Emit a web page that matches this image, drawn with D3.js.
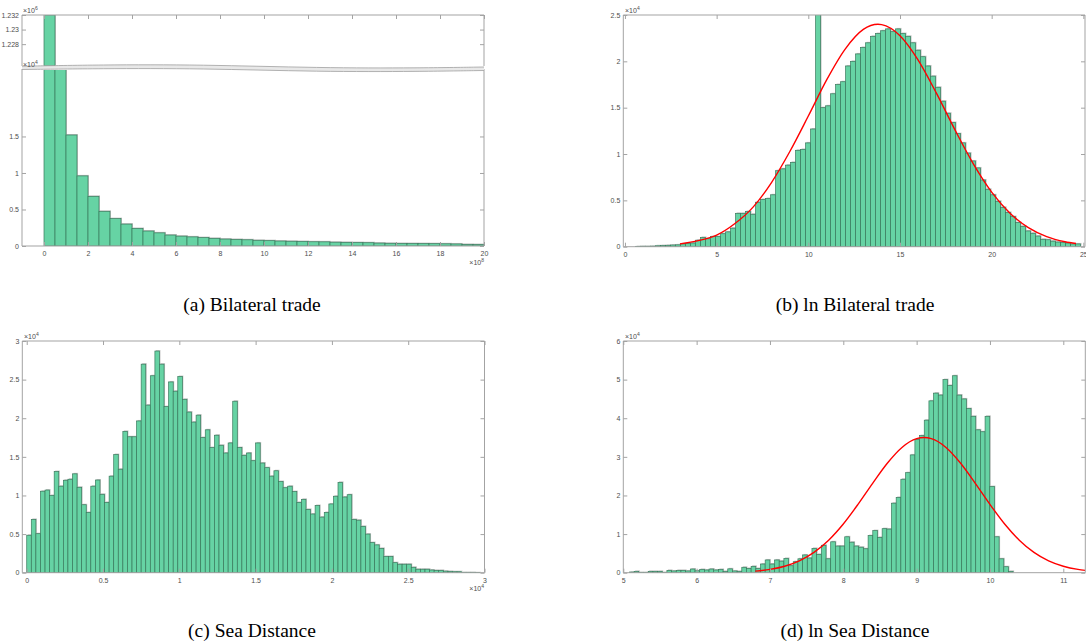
<!DOCTYPE html>
<meta charset="utf-8">
<style>
 body { margin: 0; background: #fff; }
 .ax text, .lbl { font: 7px "Liberation Sans", Arial, sans-serif; fill: #4d4d4d; }
 .ax line { stroke: #a3a3a3; }
 .frame { fill: none; stroke: #a3a3a3; stroke-width: 1; }
 .bar { fill: #66d3a4; stroke: #3a7a5d; stroke-width: 0.7; }
 .shadow { fill: #c6c6c6; }
 .fit { fill: none; stroke: #ff0000; stroke-width: 1.4; }
 .caption { font: 19.5px "Liberation Serif", "Times New Roman", serif; fill: #000; }
</style>

<svg id="fig" width="1086" height="644"></svg>

<script src="https://cdn.jsdelivr.net/npm/d3@7"></script>

<script>
 // (a) Bilateral trade, bins of 0.5 (x10^8) from 0
 var tradeStart = 0, tradeWidth = 0.5;
 var tradeCounts = [1232000, 32000, 15200, 9600, 6800, 4750, 3750, 3000, 2400, 2050,
                    1800, 1500, 1350, 1250, 1150, 1050, 950, 900, 850, 780,
                    730, 680, 650, 620, 580, 570, 520, 500, 470, 450,
                    400, 370, 350, 340, 330, 320, 300, 280, 220, 200];

 // (b) ln Bilateral trade
 var lnTradeStart = 0.58, lnTradeWidth = 0.2727;
 var lnTradeCounts = [40, 50, 50, 60, 100, 120, 150, 180, 200, 300,
                      350, 400, 700, 1000, 850, 1100, 1100, 1400, 1600, 2000,
                      3600, 3600, 3800, 3500, 4800, 5100, 5200, 5600, 8200, 8400,
                      8800, 9100, 10400, 10500, 11200, 12700, 25600, 15000, 15200, 16500,
                      17500, 17800, 19500, 20000, 20800, 21500, 22000, 22700, 23000, 23300,
                      23500, 23200, 23500, 23000, 22700, 22000, 21200, 20500, 19500, 18400,
                      17200, 15700, 14400, 13400, 12200, 11200, 10100, 9250, 8500, 7200,
                      6200, 5600, 4900, 4250, 3700, 3250, 2600, 2200, 1700, 1450,
                      1150, 800, 750, 600, 500, 450, 400, 300, 300];
 var lnTradeFitX = [3, 4, 5, 6, 7, 8, 9, 10, 11, 12, 13, 13.8, 14, 15, 16, 17, 18, 19, 20, 21, 22, 23, 24, 24.6];
 var lnTradeFitY = [300, 650, 1250, 2500, 4300, 6950, 10300, 14100, 18000, 21300, 23450, 24000, 23960, 22770,
                    20110, 16510, 12600, 8940, 5890, 3610, 2060, 1090, 540, 340];

 // (c) Sea Distance, bins of 0.03 (x10^4) from 0
 var seaStart = 0, seaWidth = 0.03;
 var seaCounts = [4850, 6900, 5050, 10550, 10700, 10000, 13100, 11200, 11970, 12100,
                  12800, 11060, 8800, 7800, 11200, 12000, 10150, 9100, 12500, 15300,
                  13400, 18300, 17600, 17600, 19650, 27000, 21700, 25500, 28700, 27000,
                  21500, 24700, 23500, 25400, 22450, 20800, 19500, 20400, 17500, 18500,
                  16200, 17800, 16500, 15500, 16800, 22200, 16200, 15200, 15500, 14500,
                  16800, 14200, 13600, 12500, 13200, 11800, 11000, 11200, 10500, 9100,
                  9500, 8200, 7600, 8700, 7200, 7800, 8900, 9900, 11700, 9800,
                  10100, 6900, 6800, 6000, 5000, 3900, 3600, 3150, 2100, 2100,
                  1300, 1100, 1100, 1100, 700, 450, 450, 450, 350, 300,
                  300, 200, 170, 130, 130, 50, 50, 50, 30];

 // (d) ln Sea Distance
 var lnSeaStart = 5.0845, lnSeaWidth = 0.0638;
 var lnSeaCounts = [170, 350, 100, 100, 350, 350, 350, 100, 600, 450,
                    600, 600, 450, 950, 500, 850, 700, 950, 700, 850,
                    350, 1000, 450, 350, 1400, 1100, 1650, 1100, 2250, 3300,
                    2250, 3300, 3000, 3700, 1800, 2850, 3600, 4600, 3800, 6300,
                    4750, 7100, 3600, 8000, 6900, 6900, 9300, 7900, 6900, 6600,
                    6200, 9600, 10900, 9150, 11400, 11300, 18000, 19500, 24200, 25900,
                    30500, 34500, 35500, 39500, 44500, 46500, 46000, 50000, 48500, 51000,
                    46000, 45000, 42500, 40500, 37000, 36500, 40500, 22300, 9300, 3600,
                    1550, 350];
 var lnSeaFitX = [6.8, 7, 7.2, 7.4, 7.6, 7.8, 8, 8.2, 8.4, 8.6, 8.8, 9, 9.1, 9.2, 9.4, 9.6, 9.8, 10,
                  10.2, 10.4, 10.6, 10.8, 11, 11.2, 11.3];
 var lnSeaFitY = [400, 850, 1670, 3060, 5250, 8420, 12620, 17680, 23150, 28350, 32440, 34710, 35000,
                  34710, 32440, 28350, 23150, 17680, 12620, 8420, 5250, 3060, 1670, 850, 590];

 var svg = d3.select("#fig");
 var clipCount = 0;

 function num(d) { return String(+d.toFixed(4)); }

 function drawPanel(p)
 {
     var x = d3.scaleLinear().domain(p.xDomain).range([p.left, p.right]);
     var y = d3.scaleLinear().domain(p.yDomain).range([p.bottom, p.top]);
     var g = svg.append("g");

     var id = "clip" + (clipCount++);
     g.append("clipPath").attr("id", id).append("rect")
         .attr("x", p.left).attr("y", p.top)
         .attr("width", p.right - p.left).attr("height", p.bottom - p.top);

     var plot = g.append("g").attr("clip-path", "url(#" + id + ")");

     var bins = p.counts.map(function(c, i) {
         return {x0: p.start + i * p.width, x1: p.start + (i + 1) * p.width, n: c};
     });

     // light offset outline behind the bars
     plot.selectAll(".shadow").data(bins).enter().append("rect")
         .attr("class", "shadow")
         .attr("x", function(d) { return x(d.x0) + 1; })
         .attr("y", function(d) { return y(d.n) - 1; })
         .attr("width", function(d) { return x(d.x1) - x(d.x0); })
         .attr("height", function(d) { return Math.max(0, p.bottom - y(d.n)); });

     plot.selectAll(".bar").data(bins).enter().append("rect")
         .attr("class", "bar")
         .attr("x", function(d) { return x(d.x0); })
         .attr("y", function(d) { return y(d.n); })
         .attr("width", function(d) { return x(d.x1) - x(d.x0); })
         .attr("height", function(d) { return Math.max(0, p.bottom - y(d.n)); });

     if (p.fitX)
     {
         plot.append("path").datum(d3.zip(p.fitX, p.fitY))
             .attr("class", "fit")
             .attr("d", d3.line()
                   .x(function(d) { return x(d[0]); })
                   .y(function(d) { return y(d[1]); })
                   .curve(d3.curveMonotoneX));
     }

     // axes, ticks pointing inwards like matlab
     var left = g.append("g").attr("class", "ax").attr("transform", "translate(" + p.left + ",0)")
         .call(d3.axisLeft(y).tickValues(p.yTicks).tickFormat(p.yFmt).tickSize(-4).tickPadding(3));
     var right = g.append("g").attr("class", "ax").attr("transform", "translate(" + p.right + ",0)")
         .call(d3.axisRight(y).tickValues(p.yTicks).tickFormat("").tickSize(-4));
     left.select(".domain").remove();
     right.select(".domain").remove();

     if (p.bottomAxis)
     {
         var bot = g.append("g").attr("class", "ax").attr("transform", "translate(0," + p.bottom + ")")
             .call(d3.axisBottom(x).tickValues(p.xTicks).tickFormat(num).tickSize(-4).tickPadding(5));
         bot.select(".domain").remove();
     }
     if (p.topAxis)
     {
         var top = g.append("g").attr("class", "ax").attr("transform", "translate(0," + p.top + ")")
             .call(d3.axisTop(x).tickValues(p.xTicks).tickFormat("").tickSize(-4));
         top.select(".domain").remove();
     }

     var fy0 = p.frameTop === undefined ? p.top : p.frameTop;
     var fy1 = p.frameBottom === undefined ? p.bottom : p.frameBottom;
     g.append("line").attr("class", "frame").attr("x1", p.left).attr("x2", p.left).attr("y1", fy0).attr("y2", fy1);
     g.append("line").attr("class", "frame").attr("x1", p.right).attr("x2", p.right).attr("y1", fy0).attr("y2", fy1);
     if (p.topAxis)
         g.append("line").attr("class", "frame").attr("x1", p.left).attr("x2", p.right).attr("y1", p.top).attr("y2", p.top);
     if (p.bottomAxis)
         g.append("line").attr("class", "frame").attr("x1", p.left).attr("x2", p.right).attr("y1", p.bottom).attr("y2", p.bottom);
 }

 function expLabel(xp, yp, e, anchor)
 {
     var t = svg.append("text").attr("class", "lbl")
         .attr("x", xp).attr("y", yp).attr("text-anchor", anchor || "start");
     t.append("tspan").text("\u00d710");
     t.append("tspan").attr("dy", -3).style("font-size", "5px").text(e);
 }

 function caption(xp, yp, s)
 {
     svg.append("text").attr("class", "caption")
         .attr("x", xp).attr("y", yp).attr("text-anchor", "middle").text(s);
 }

 var fmt4 = function(d) { return num(d / 1e4); };

 // (a) broken axis: upper part
 drawPanel({left: 22, right: 484, top: 15, bottom: 66, frameBottom: 66,
            xDomain: [-1, 20], yDomain: [1225000, 1232000],
            xTicks: d3.range(0, 21, 2), yTicks: [1228000, 1230000, 1232000],
            yFmt: function(d) { return num(d / 1e6); },
            counts: tradeCounts, start: tradeStart, width: tradeWidth,
            topAxis: true, bottomAxis: false});
 // (a) lower part
 drawPanel({left: 22, right: 484, top: 70, bottom: 246, frameTop: 69,
            xDomain: [-1, 20], yDomain: [0, 24100],
            xTicks: d3.range(0, 21, 2), yTicks: [0, 5000, 10000, 15000],
            yFmt: fmt4,
            counts: tradeCounts, start: tradeStart, width: tradeWidth,
            topAxis: false, bottomAxis: true});

 // the break band between the two parts
 var waveTop = [[22, 66.2], [100, 64.8], [200, 64.6], [320, 68.0], [420, 68.0], [484, 67.0]];
 var waveBot = [[22, 69.5], [100, 68.6], [200, 68.4], [320, 71.8], [420, 71.5], [484, 70.5]];
 var waveLine = d3.line().curve(d3.curveBasis);
 svg.append("path")
     .attr("d", waveLine(waveTop) + "L" + waveLine(waveBot.slice().reverse()).slice(1) + "Z")
     .attr("fill", "#e8e8e8");
 svg.append("path").attr("d", waveLine(waveTop)).attr("fill", "none").attr("stroke", "#a0a0a0").attr("stroke-width", 0.8);
 svg.append("path").attr("d", waveLine(waveBot)).attr("fill", "none").attr("stroke", "#a0a0a0").attr("stroke-width", 0.8);

 expLabel(23, 12.5, "6");
 expLabel(23, 66.5, "4");
 expLabel(484, 265, "8", "end");

 // (b)
 drawPanel({left: 623.3, right: 1085, top: 15, bottom: 246.7,
            xDomain: [-0.09, 25.09], yDomain: [0, 25000],
            xTicks: d3.range(0, 26, 5), yTicks: d3.range(0, 25001, 5000),
            yFmt: fmt4,
            counts: lnTradeCounts, start: lnTradeStart, width: lnTradeWidth,
            fitX: lnTradeFitX, fitY: lnTradeFitY,
            topAxis: true, bottomAxis: true});
 expLabel(625, 12.5, "4");

 // (c)
 drawPanel({left: 22.3, right: 484.5, top: 341, bottom: 572.7,
            xDomain: [-0.029, 3], yDomain: [0, 30000],
            xTicks: [0, 0.5, 1, 1.5, 2, 2.5, 3], yTicks: d3.range(0, 30001, 5000),
            yFmt: fmt4,
            counts: seaCounts, start: seaStart, width: seaWidth,
            topAxis: true, bottomAxis: true});
 expLabel(24, 338.5, "4");
 expLabel(484, 591, "4", "end");

 // (d)
 drawPanel({left: 623.3, right: 1085.3, top: 341, bottom: 572.7,
            xDomain: [5, 11.3], yDomain: [0, 60000],
            xTicks: d3.range(5, 12, 1), yTicks: d3.range(0, 60001, 10000),
            yFmt: fmt4,
            counts: lnSeaCounts, start: lnSeaStart, width: lnSeaWidth,
            fitX: lnSeaFitX, fitY: lnSeaFitY,
            topAxis: true, bottomAxis: true});
 expLabel(625, 338.5, "4");

 caption(252, 310.5, "(a) Bilateral trade");
 caption(855, 310.5, "(b) ln Bilateral trade");
 caption(252, 636.7, "(c) Sea Distance");
 caption(855, 636.7, "(d) ln Sea Distance");
</script>
